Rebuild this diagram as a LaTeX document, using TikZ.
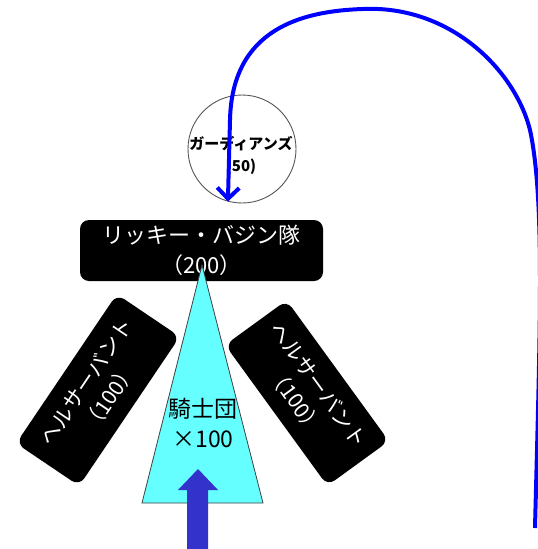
\documentclass[tikz,border=0pt]{standalone}
\usepackage{fontspec}
\newfontfamily\jpfont{Noto Sans CJK JP}
\usetikzlibrary{arrows.meta}

\definecolor{knightcyan}{HTML}{66FFFF}
\definecolor{pushblue}{HTML}{3333CC}
\definecolor{routeblue}{HTML}{0000FF}
\definecolor{ringgray}{HTML}{555555}

\tikzset{
  unitbox/.style={rectangle, rounded corners=9pt, fill=black, text=white,
    align=center, inner sep=0pt},
  sidebox/.style={unitbox, minimum width=180pt, minimum height=76pt,
    font=\jpfont\fontsize{21}{28}\selectfont},
  ring/.style={circle, draw=ringgray, line width=0.9pt, fill=white,
    minimum size=108pt, inner sep=0pt},
  ringtext/.style={align=center, inner sep=0pt,
    font=\jpfont\bfseries\fontsize{15}{22}\selectfont},
  wedge/.style={fill=knightcyan, draw=black!75, line width=0.8pt},
  route/.style={draw=routeblue, line width=4pt,
    -{Straight Barb[length=11pt,width=22pt]}},
}

\begin{document}
\begin{tikzpicture}[x=1pt,y=-1pt]
\useasboundingbox (0,0) rectangle (538,549);

% flanking units
\node[sidebox, rotate=56] (servantL) at (98,390) {ヘルサーバント\\（100）};
\node[sidebox, rotate=-54, minimum width=174pt] (servantR) at (307,393) {ヘルサーバント\\（100）};

% commander unit
\node[unitbox, minimum width=243pt, minimum height=61pt,
      font=\jpfont\fontsize{22}{30}\selectfont] (ricky) at (201.5,250.5)
      {リッキー・バジン隊\\（200）};

% knights wedge
\path[wedge] (202,265) -- (263,503) -- (142,503) -- cycle;
\node[align=center, inner sep=0pt, font=\jpfont\fontsize{23}{30}\selectfont]
      (knights) at (203,423) {騎士団\\×100};

% forward push
\fill[pushblue] (187,549) -- (187,490) -- (178,490) -- (198,469)
  -- (218,490) -- (208,490) -- (208,549) -- cycle;

% guardians
\node[ring] (guard) at (242,149) {};
\node[ringtext] (guardtext) at (241,155) {ガーディアンズ\\(50)};

% wide flanking route
\coordinate (routestart) at (535,528);
\draw[route] (routestart)
  .. controls (540,330) and (545,200) .. (530,130)
  .. controls (515,70) and (450,5) .. (363,9)
  .. controls (300,11) and (232,30) .. (230,120)
  -- (guard.-105);
\end{tikzpicture}
\end{document}
